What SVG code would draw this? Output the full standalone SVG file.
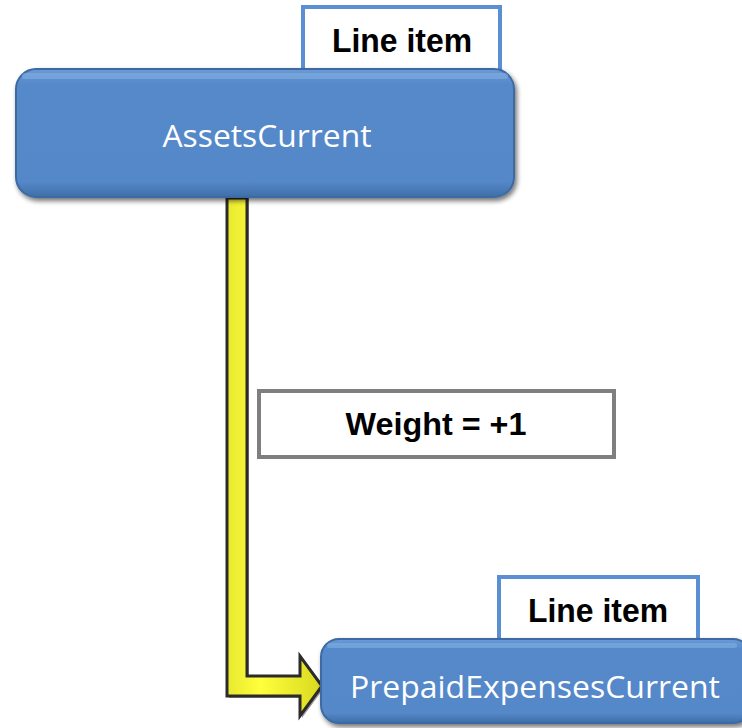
<svg xmlns="http://www.w3.org/2000/svg" width="742" height="728" viewBox="0 0 742 728">
  <style>
    .tab { fill: #ffffff; stroke: #5b8fd4; stroke-width: 4; }
    .tabtext { font-family: "Liberation Sans", Arial, sans-serif; font-weight: bold; font-size: 33px; fill: #000000; text-anchor: middle; }
    .node { fill: url(#nodeFill); stroke: #3c6aa3; stroke-width: 2; }
    .nodetext { font-family: "Open Sans", "Liberation Sans", sans-serif; font-size: 31px; fill: #ffffff; text-anchor: middle; }
    .label { fill: #ffffff; stroke: #7f7f7f; stroke-width: 4; }
    .labeltext { font-family: "Liberation Sans", Arial, sans-serif; font-weight: bold; font-size: 32px; fill: #000000; text-anchor: middle; }
  </style>
  <defs>
    <linearGradient id="nodeFill" x1="0" y1="0" x2="0" y2="1">
      <stop offset="0" stop-color="#6a9ad6"/>
      <stop offset="0.12" stop-color="#5689ca"/>
      <stop offset="0.88" stop-color="#5588c8"/>
      <stop offset="1" stop-color="#3f6ea8"/>
    </linearGradient>
    <linearGradient id="barFill" x1="0" y1="0" x2="1" y2="0">
      <stop offset="0" stop-color="#e8e830"/>
      <stop offset="0.35" stop-color="#ffff3c"/>
      <stop offset="1" stop-color="#d8d820"/>
    </linearGradient>
    <filter id="soft" x="-10%" y="-10%" width="120%" height="130%">
      <feGaussianBlur in="SourceAlpha" stdDeviation="2.5"/>
      <feOffset dx="2" dy="3"/>
      <feComponentTransfer><feFuncA type="linear" slope="0.55"/></feComponentTransfer>
      <feMerge><feMergeNode/><feMergeNode in="SourceGraphic"/></feMerge>
    </filter>
  </defs>

  <!-- Connector: elbow arrow from AssetsCurrent down to PrepaidExpensesCurrent -->
  <g id="connectors">
    <polygon points="229,198 249,198 249,678 302,678 302,658 324,688 302,718 302,698 229,698" fill="#555555" opacity="0.6"/>
    <polygon points="227,198 247,198 247,676 300,676 300,656 322,686 300,716 300,696 227,696"
             fill="url(#barFill)" stroke="#2b2b2b" stroke-width="3" stroke-linejoin="miter"/>
  </g>

  <!-- Edge label -->
  <g id="weight-label">
    <rect class="label" x="259" y="391" width="355" height="66"/>
    <text class="labeltext" x="436" y="435" textLength="181" lengthAdjust="spacingAndGlyphs">Weight = +1</text>
  </g>

  <!-- Parent line item -->
  <g id="node-assets-current">
    <rect class="tab" x="303" y="7" width="197" height="70"/>
    <text class="tabtext" x="402" y="52" textLength="140" lengthAdjust="spacingAndGlyphs">Line item</text>
    <rect class="node" x="16" y="69" width="498" height="128" rx="20" ry="20" filter="url(#soft)"/>
    <rect x="22" y="73" width="486" height="6" rx="3" fill="#8fb7e6" opacity="0.45"/>
    <text class="nodetext" x="267" y="147" textLength="209" lengthAdjust="spacingAndGlyphs">AssetsCurrent</text>
  </g>

  <!-- Child line item -->
  <g id="node-prepaid-expenses-current">
    <rect class="tab" x="499" y="577" width="199" height="70"/>
    <text class="tabtext" x="598" y="622" textLength="140" lengthAdjust="spacingAndGlyphs">Line item</text>
    <rect class="node" x="321" y="639" width="430" height="84" rx="18" ry="18" filter="url(#soft)"/>
    <rect x="327" y="643" width="410" height="5" rx="2.5" fill="#8fb7e6" opacity="0.45"/>
    <text class="nodetext" x="535" y="698" textLength="370" lengthAdjust="spacingAndGlyphs">PrepaidExpensesCurrent</text>
  </g>
</svg>
